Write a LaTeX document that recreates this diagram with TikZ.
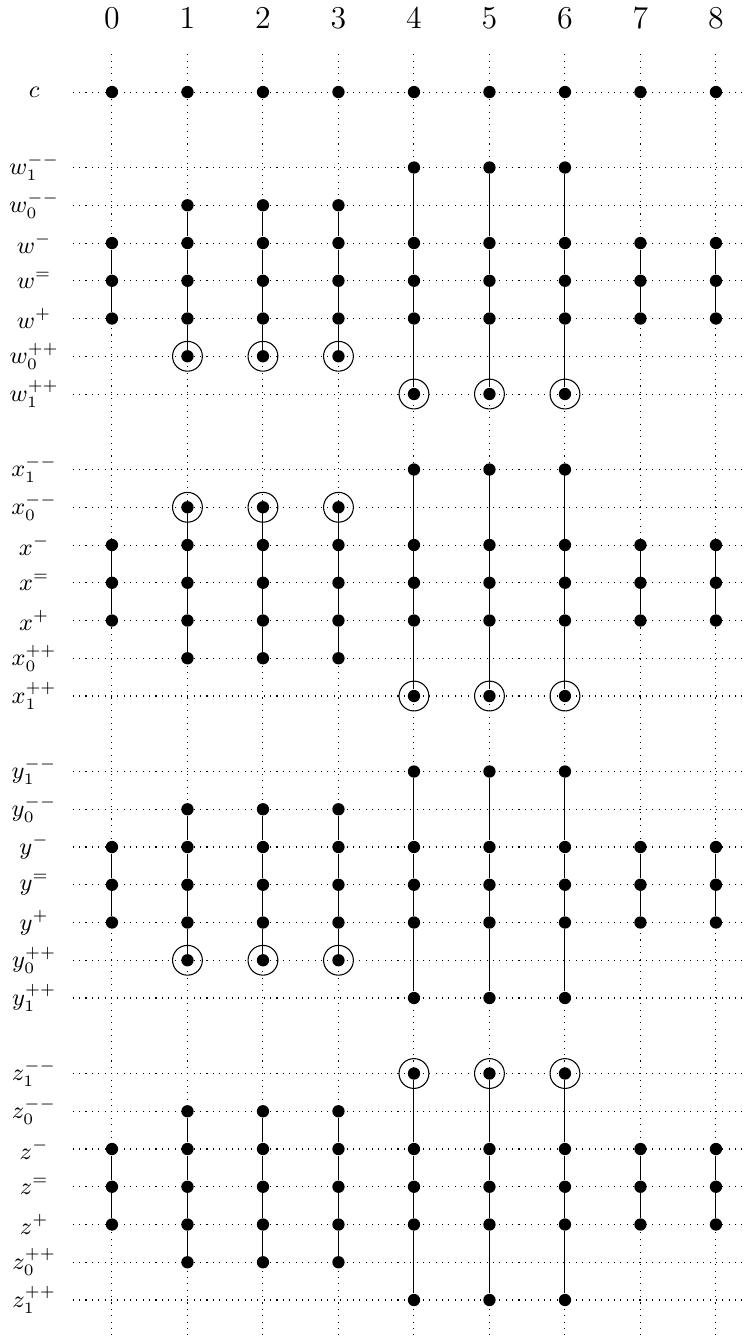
\documentclass[tikz,border=0pt]{standalone}
\usetikzlibrary{calc}
\tikzset{
  dot/.style={circle,fill=black,inner sep=0pt,minimum size=1.63mm},
  ring/.style={circle,draw,inner sep=0pt,minimum size=3.95mm},
  gridline/.style={dotted},
  head/.style={font=\fontsize{13.2}{16}\selectfont},
  rowlab/.style={font=\fontsize{8.8}{10}\selectfont},
}
\begin{document}
\begin{tikzpicture}
\useasboundingbox (-1.483,-16.49) rectangle (8.371,1.219);
% column heads and vertical grid lines
\foreach \c in {0,...,8} {
  \node[head] (head-\c) at (\c,0.98) {$\c$};
  \draw[gridline] (\c,0.5) -- (\c,-16.5);
}
% row c
\node[rowlab] (lab-c) at (-1.03,0) {$c$};
\draw[gridline] (-0.52,0) -- (8.5,0);
\foreach \c in {0,...,8}
  \node[dot] (c-\c) at (\c,0) {};
% the four groups w, x, y, z (seven rows each)
\foreach \g/\top in {w/-1,x/-5,y/-9,z/-13} {
  \foreach \r/\lab in {1/{_1^{--}},2/{_0^{--}},3/{^-},4/{^=},5/{^+},6/{_0^{++}},7/{_1^{++}}} {
    \pgfmathsetmacro\yy{\top-0.5*(\r-1)}
    \node[rowlab] (lab-\g-\r) at (-1.03,\yy) {$\g\lab$};
    \draw[gridline] (-0.52,\yy) -- (8.5,\yy);
  }
  % dots: columns 0,7,8 / 1,2,3 / 4,5,6
  \foreach \c in {0,7,8}
    \foreach \r in {3,4,5} {
      \pgfmathsetmacro\yy{\top-0.5*(\r-1)}
      \node[dot] (\g-\r-\c) at (\c,\yy) {};
    }
  \foreach \c in {1,2,3}
    \foreach \r in {2,3,4,5,6} {
      \pgfmathsetmacro\yy{\top-0.5*(\r-1)}
      \node[dot] (\g-\r-\c) at (\c,\yy) {};
    }
  \foreach \c in {4,5,6}
    \foreach \r in {1,3,4,5,7} {
      \pgfmathsetmacro\yy{\top-0.5*(\r-1)}
      \node[dot] (\g-\r-\c) at (\c,\yy) {};
    }
  % solid links
  \foreach \c in {0,7,8} \draw (\g-3-\c) -- (\g-4-\c) -- (\g-5-\c);
  \foreach \c in {1,2,3} \draw (\g-2-\c) -- (\g-3-\c) -- (\g-4-\c) -- (\g-5-\c) -- (\g-6-\c);
  \foreach \c in {4,5,6} \draw (\g-1-\c) -- (\g-3-\c) -- (\g-4-\c) -- (\g-5-\c) -- (\g-7-\c);
}
% rings round the marked dots
\foreach \g/\r/\c in {w/6/1,w/6/2,w/6/3,w/7/4,w/7/5,w/7/6,
                      x/2/1,x/2/2,x/2/3,x/7/4,x/7/5,x/7/6,
                      y/6/1,y/6/2,y/6/3,
                      z/1/4,z/1/5,z/1/6}
  \node[ring] (ring-\g-\r-\c) at (\g-\r-\c) {};
\end{tikzpicture}
\end{document}
